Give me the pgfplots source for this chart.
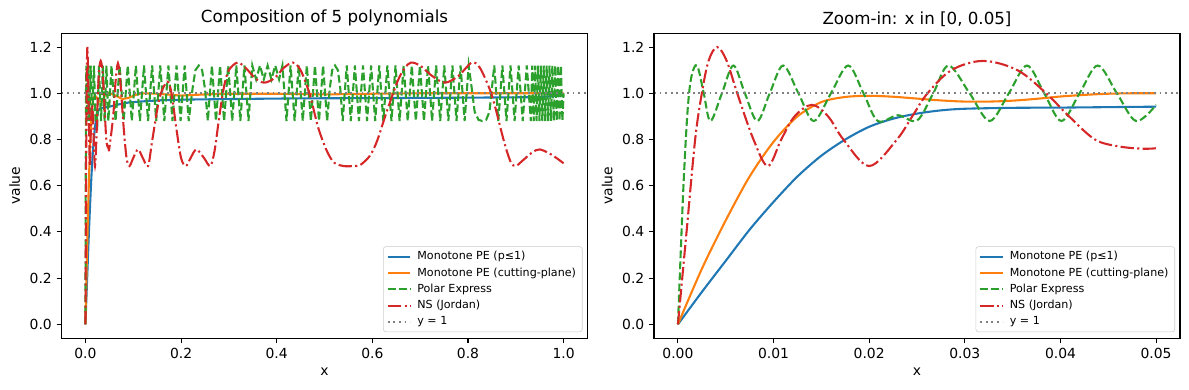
\documentclass[border=0pt]{standalone}
\usepackage{fontspec}
\setmainfont{DejaVu Sans}
\usepackage{pgfplots}
\pgfplotsset{compat=1.18}
\usepackage{pgfplotstable}

\definecolor{tabblue}{HTML}{1F77B4}
\definecolor{taborange}{HTML}{FF7F0E}
\definecolor{tabgreen}{HTML}{2CA02C}
\definecolor{tabred}{HTML}{D62728}
\definecolor{refgray}{HTML}{808080}

\pgfplotstableread{
x y
0 0
0.0025 0.14
0.005 0.275
0.0075 0.41
0.01 0.53
0.0125 0.64
0.015 0.73
0.0175 0.80
0.02 0.855
0.0225 0.89
0.025 0.912
0.0275 0.926
0.03 0.933
0.035 0.937
0.04 0.938
0.045 0.94
0.05 0.942
0.07 0.952
0.09 0.96
0.12 0.965
0.16 0.97
0.22 0.973
0.30 0.975
0.45 0.978
0.60 0.979
0.80 0.981
0.93 0.983
0.96 0.985
1.00 0.99
}\bluedata

\pgfplotstableread{
x y
0 0
0.0025 0.24
0.005 0.45
0.0075 0.64
0.01 0.79
0.0125 0.900
0.015 0.962
0.0175 0.984
0.02 0.989
0.0225 0.985
0.025 0.977
0.0275 0.969
0.03 0.964
0.0325 0.964
0.035 0.968
0.0375 0.976
0.04 0.986
0.0425 0.993
0.045 0.998
0.0475 1.0
0.05 1.0
0.058 0.995
0.068 0.985
0.077 0.975
0.09 0.98
0.105 0.993
0.118 1.0
0.15 0.998
0.20 0.99
0.25 0.995
0.30 0.998
0.40 0.998
0.50 0.995
0.60 0.998
0.70 1.0
1.00 1.0
}\orangedata

\pgfplotstableread{
x y
0 0
0.0003 0.32
0.0006 0.62
0.0010 0.92
0.0014 1.07
0.0020 1.12
0.0027 1.00
0.0034 0.88
0.0046 1.00
0.0058 1.12
0.0070 1.00
0.0083 0.88
0.0096 1.00
0.0110 1.12
0.0126 1.00
0.0142 0.88
0.0160 1.00
0.0178 1.12
0.0194 1.00
0.0209 0.88
0.0230 0.905
0.0250 0.882
0.0267 1.00
0.0283 1.12
0.0305 1.00
0.0326 0.88
0.0346 1.00
0.0365 1.12
0.0383 1.00
0.0401 0.88
0.0420 1.00
0.0439 1.12
0.0459 1.00
0.0479 0.88
0.0500 0.95
0.0545 1.12
0.063 0.88
0.0715 1.12
0.080 0.88
0.0885 1.12
0.097 0.88
0.1055 1.12
0.114 0.88
0.1225 1.12
0.131 0.88
0.1395 1.12
0.148 0.88
0.1565 1.12
0.165 0.88
0.1735 1.12
0.182 0.88
0.1905 1.12
0.199 0.88
0.2075 1.12
0.216 0.88
0.224 1.02
0.230 1.10
0.237 1.12
0.244 1.10
0.250 1.02
0.256 0.88
0.2645 1.12
0.273 0.88
0.2815 1.12
0.290 0.88
0.2985 1.12
0.307 0.88
0.3155 1.12
0.324 0.88
0.3325 1.12
0.341 0.88
0.349 1.12
0.357 1.06
0.365 1.12
0.373 1.06
0.381 1.12
0.389 1.06
0.397 1.12
0.405 1.06
0.412 1.12
0.4205 0.88
0.429 1.12
0.4375 0.88
0.446 1.12
0.4545 0.88
0.463 1.12
0.4715 0.88
0.480 1.12
0.4885 0.88
0.497 1.12
0.5055 0.88
0.511 1.02
0.516 1.10
0.522 1.12
0.528 1.10
0.533 1.02
0.538 0.88
0.5465 1.12
0.555 0.88
0.5635 1.12
0.572 0.88
0.5805 1.12
0.589 0.88
0.5975 1.12
0.606 0.88
0.6145 1.12
0.623 0.88
0.6315 1.12
0.640 0.88
0.6485 1.12
0.657 0.88
0.6655 1.12
0.674 0.88
0.6825 1.12
0.691 0.88
0.6995 1.12
0.708 0.88
0.7165 1.12
0.725 0.88
0.7335 1.12
0.742 0.88
0.7505 1.12
0.759 0.88
0.7675 1.12
0.776 0.88
0.7845 1.12
0.793 0.88
0.8015 1.12
0.808 1.02
0.814 0.92
0.822 0.885
0.830 0.88
0.838 0.885
0.845 0.92
0.850 1.02
0.855 1.12
0.8635 0.88
0.872 1.12
0.8805 0.88
0.889 1.12
0.8975 0.88
0.906 1.12
0.9145 0.88
0.923 1.12
0.9315 0.88
0.9345 1.12
0.9375 0.88
0.9405 1.12
0.9435 0.88
0.9465 1.12
0.9495 0.88
0.9525 1.12
0.9555 0.88
0.9585 1.12
0.9615 0.88
0.9645 1.12
0.9675 0.88
0.9705 1.12
0.9735 0.88
0.9765 1.12
0.9795 0.88
0.9825 1.12
0.9855 0.88
0.9885 1.12
0.9915 0.88
0.9945 1.12
0.9975 0.88
1.000 1.00
}\greendata

\pgfplotstableread{
x y
0 0
0.0009 0.40
0.0018 0.80
0.0025 1.00
0.0032 1.14
0.0041 1.20
0.0051 1.14
0.0062 1.00
0.0079 0.80
0.0094 0.685
0.0108 0.80
0.0122 0.90
0.0140 0.95
0.0157 0.90
0.0173 0.80
0.0200 0.685
0.0229 0.80
0.0245 0.90
0.0261 1.00
0.0286 1.10
0.0319 1.14
0.0355 1.10
0.0385 1.00
0.0409 0.90
0.0436 0.80
0.0461 0.77
0.0486 0.76
0.0500 0.762
0.058 0.90
0.063 1.05
0.068 1.13
0.073 1.05
0.080 0.85
0.086 0.72
0.092 0.685
0.100 0.72
0.110 0.757
0.120 0.72
0.131 0.685
0.140 0.80
0.155 0.98
0.171 1.05
0.180 1.00
0.190 0.85
0.200 0.72
0.210 0.685
0.220 0.72
0.232 0.757
0.248 0.72
0.261 0.685
0.270 0.75
0.280 0.90
0.290 1.03
0.300 1.10
0.318 1.133
0.335 1.11
0.355 1.065
0.374 1.046
0.395 1.065
0.415 1.11
0.434 1.133
0.450 1.10
0.469 0.996
0.487 0.85
0.505 0.75
0.520 0.70
0.540 0.685
0.560 0.685
0.575 0.69
0.595 0.73
0.610 0.794
0.630 0.92
0.653 1.053
0.668 1.11
0.681 1.133
0.700 1.12
0.725 1.075
0.752 1.046
0.780 1.075
0.808 1.133
0.825 1.11
0.845 1.02
0.857 0.94
0.868 0.85
0.879 0.765
0.890 0.70
0.900 0.685
0.915 0.71
0.935 0.745
0.950 0.757
0.970 0.74
0.985 0.72
1.000 0.697
}\reddata

\pgfplotsset{
  panel/.style={
    scale only axis,
    width=378.7pt, height=219.6pt,
    axis on top,
    axis line style={line width=0.8pt},
    every tick/.style={black, line width=0.8pt},
    tick align=outside,
    major tick length=3.5pt,
    xtick pos=bottom, ytick pos=left,
    ticklabel style={font=\fontsize{10}{12}\selectfont},
    /pgf/number format/assume math mode=true,
    label style={font=\fontsize{10}{12}\selectfont},
    title style={font=\fontsize{12}{14}\selectfont, yshift=-4.5pt},
    ymin=-0.06, ymax=1.26,
    ytick={0,0.2,0.4,0.6,0.8,1.0,1.2},
    yticklabel style={/pgf/number format/.cd, fixed, fixed zerofill, precision=1},
    xlabel={x}, ylabel={value},
    legend cell align=left,
    legend style={at={(0.9905,0.0197)}, anchor=south east,
      font=\fontsize{8}{9.5}\selectfont,
      draw=black!20, rounded corners=2pt, fill=white, fill opacity=0.8,
      text opacity=1, inner xsep=2.5pt, inner ysep=1.5pt, row sep=0.2pt,
      /tikz/every odd column/.append style={column sep=2.5pt}},
    legend image code/.code={\draw[#1] (0pt,0pt) -- (16pt,0pt);},
  },
  bl/.style={tabblue, line width=1.5pt},
  or/.style={taborange, line width=1.5pt},
  gr/.style={tabgreen, line width=1.5pt, dash pattern=on 5.55pt off 2.4pt},
  rd/.style={tabred, line width=1.5pt, dash pattern=on 9.6pt off 2.4pt on 1.5pt off 2.4pt},
  gy/.style={refgray, line width=1.3pt, dash pattern=on 1.3pt off 2.7pt},
}

\begin{document}
\begin{tikzpicture}
\useasboundingbox (0,0) rectangle (856.08pt,-280.8pt);

\begin{axis}[panel, at={(44.3pt,-23.9pt)}, anchor=north west,
  title={Composition of 5 polynomials},
  xmin=-0.05, xmax=1.05,
  xtick={0,0.2,0.4,0.6,0.8,1.0},
  xticklabel style={/pgf/number format/.cd, fixed, fixed zerofill, precision=1}]
\addplot[bl] table {\bluedata};
\addplot[or] table {\orangedata};
\addplot[gr] table {\greendata};
\addplot[rd, smooth, tension=0.5] table {\reddata};
\addplot[gy] coordinates {(-0.05,1) (1.05,1)};
\legend{Monotone PE (p≤1),Monotone PE (cutting-plane),Polar Express,NS (Jordan),y = 1}
\end{axis}

\begin{axis}[panel, at={(470.9pt,-23.9pt)}, anchor=north west,
  title={Zoom-in: x in [0, 0.05]},
  xmin=-0.0025, xmax=0.0525,
  scaled x ticks=false,
  xtick={0,0.01,0.02,0.03,0.04,0.05},
  xticklabel style={/pgf/number format/.cd, fixed, fixed zerofill, precision=2}]
\addplot[bl, smooth, tension=0.5, restrict x to domain=0:0.05] table {\bluedata};
\addplot[or, smooth, tension=0.5, restrict x to domain=0:0.05] table {\orangedata};
\addplot[gr, smooth, tension=0.55, restrict x to domain=0:0.05] table {\greendata};
\addplot[rd, smooth, tension=0.55, restrict x to domain=0:0.05] table {\reddata};
\addplot[gy] coordinates {(-0.0025,1) (0.0525,1)};
\legend{Monotone PE (p≤1),Monotone PE (cutting-plane),Polar Express,NS (Jordan),y = 1}
\end{axis}
\end{tikzpicture}
\end{document}
